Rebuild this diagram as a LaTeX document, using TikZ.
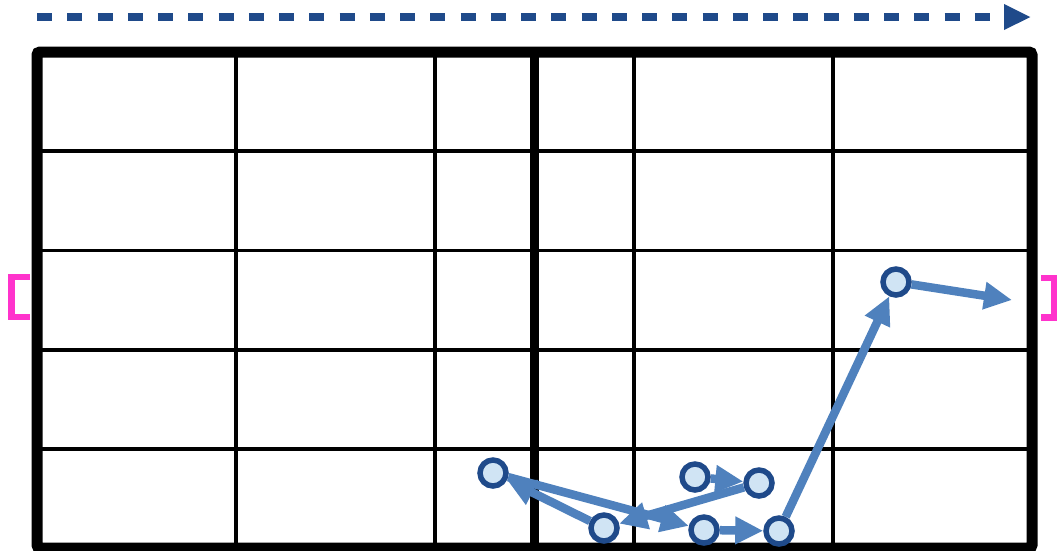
\documentclass[tikz,border=0pt]{standalone}
\usetikzlibrary{arrows.meta}
\definecolor{navy}{HTML}{1F4A8A}
\definecolor{steel}{HTML}{4F81BD}
\definecolor{pale}{HTML}{D0E4F4}
\definecolor{marker}{HTML}{FF33CC}

\begin{document}
\begin{tikzpicture}[x=1pt, y=-1pt,
    spot/.style={draw=navy, circle, line width=5.5pt, fill=pale, minimum size=26pt, inner sep=0pt},
    pass/.style={-{Triangle[length=28pt, width=26pt]}, draw=steel, line width=8.5pt},
    run/.style={-{Triangle[length=27pt, width=24pt]}, draw=navy, line width=7.5pt, dash pattern=on 15pt off 15.25pt},
    grid/.style={line width=3.8pt},
    half/.style={line width=9.5pt},
    frame/.style={line width=11pt, rounded corners=3pt},
    bracket/.style={draw=marker, line width=6.5pt}
]
\useasboundingbox (0,0) rectangle (1057,550);

% direction of play
\coordinate (runA) at (37,17);
\coordinate (runB) at (1031,17);
\draw[run] (runA) -- (runB);

% pitch
\foreach \gx in {236,435,634,833} \draw[grid] (\gx,52) -- (\gx,548);
\foreach \gy in {151,250.5,350,449} \draw[grid] (37,\gy) -- (1032,\gy);
\draw[half] (534.5,52) -- (534.5,548);
\draw[frame] (37,52) rectangle (1032,548);

% goals
\draw[bracket] (30,277) -- (11.5,277) -- (11.5,317) -- (30,317);
\draw[bracket] (1041,278) -- (1054,278) -- (1054,317.5) -- (1041,317.5);

% passes
\node[spot] (s1) at (695,477) {};
\node[spot] (s2) at (759,483) {};
\node[spot] (s3) at (604,528) {};
\node[spot] (s4) at (493,473) {};
\node[spot] (s5) at (704,530) {};
\node[spot] (s6) at (779,531) {};
\node[spot] (s7) at (896,282) {};
\coordinate (goal) at (1012,300);

\draw[pass] (s1) -- (s2);
\draw[pass] (s2) -- (s3);
\draw[pass] (s3) -- (s4);
\draw[pass] (s4) -- (s5);
\draw[pass] (s5) -- (s6);
\draw[pass] (s6) -- (s7);
\draw[pass] (s7) -- (goal);
\end{tikzpicture}
\end{document}
